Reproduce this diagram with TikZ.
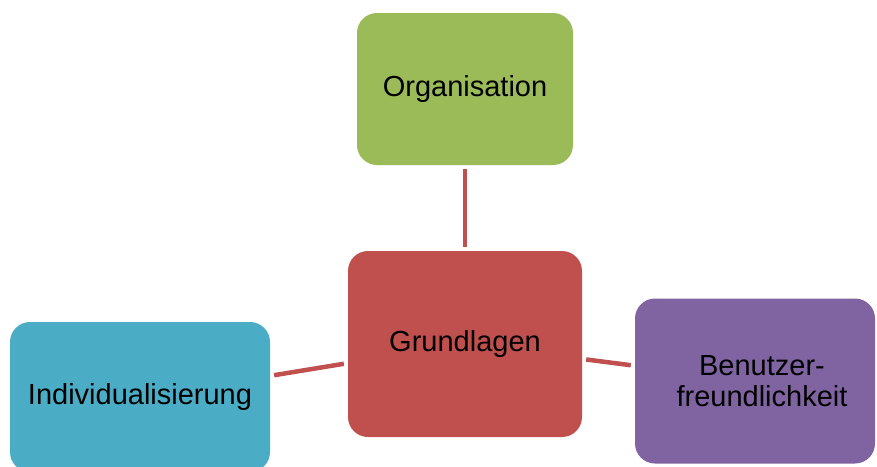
\documentclass[tikz,border=0pt]{standalone}
\usepackage{fontspec}
\setmainfont{Liberation Sans}
\usetikzlibrary{positioning}

\definecolor{orggreen}{HTML}{9BBB59}
\definecolor{basered}{HTML}{C0504D}
\definecolor{indteal}{HTML}{4BACC6}
\definecolor{usepurple}{HTML}{8064A2}

\begin{document}
\begin{tikzpicture}[
		x=1pt,
		y=-1pt,
		topic/.style={
			rounded corners=20pt,
			inner sep=0pt,
			align=center,
			font=\fontsize{29}{31}\selectfont
		},
		link/.style={
			draw=basered,
			line width=4.5pt,
			shorten <=4pt,
			shorten >=4pt
		}
		]
		
		\useasboundingbox (0,0) rectangle (877,466);
		
		%--------------------------------------------------
		% Topics
		%--------------------------------------------------
		
		\node (grundlagen) [topic,fill=basered,minimum width=234pt,minimum height=186pt] at (465,344) {Grundlagen};
		\node (organisation) [topic,fill=orggreen,minimum width=216pt,minimum height=152pt] at (465,89) {Organisation};
		\node (individual) [topic,fill=indteal,minimum width=260pt,minimum height=150pt] at (140,397) {Individualisierung};
		\node (benutzer) [topic,fill=usepurple,minimum width=240pt,minimum height=165pt] at (755,381) {\hspace*{14pt}Benutzer-\\\hspace*{14pt}freundlichkeit};
		
		%--------------------------------------------------
		% Links
		%--------------------------------------------------
		
		\foreach \x in {organisation,individual,benutzer}
		{
			\draw[link] (grundlagen) -- (\x);
		}
		
	\end{tikzpicture}
\end{document}
